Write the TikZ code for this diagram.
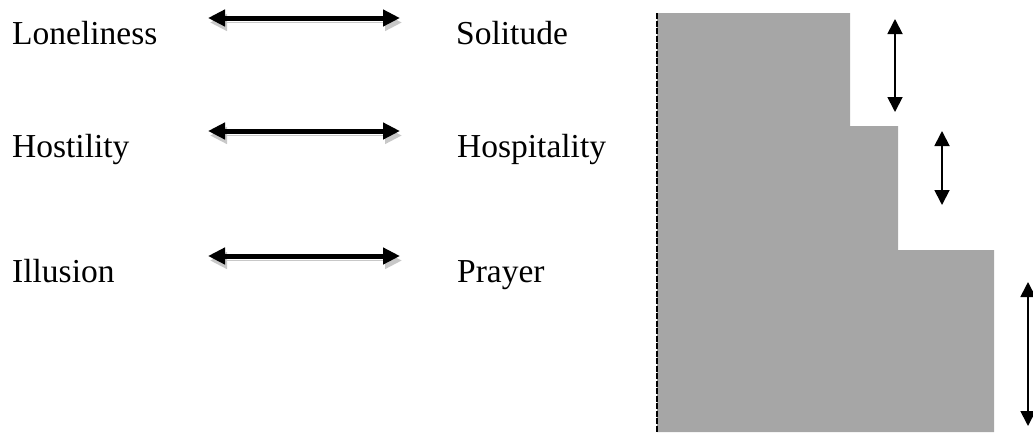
\documentclass[tikz,border=0pt]{standalone}
\usepackage{fontspec}
\setmainfont{Liberation Serif}
\usetikzlibrary{arrows.meta}
\definecolor{stepgray}{HTML}{A6A6A6}
\definecolor{shadowgray}{HTML}{C8C8C8}
\tikzset{
    word/.style={anchor=base west, inner sep=0pt, font=\fontsize{33.5}{40}\selectfont},
    pairarrow/.style={line width=5pt, {Triangle[length=17pt,width=16pt]}-{Triangle[length=17pt,width=16pt]},
        preaction={draw=shadowgray, transform canvas={shift={(2pt,-4.5pt)}}}},
    gaparrow/.style={line width=1.8pt, {Triangle[length=15pt,width=15pt]}-{Triangle[length=15pt,width=15pt]}}
}
\begin{document}
\begin{tikzpicture}[x=1pt,y=-1pt]
    \useasboundingbox (0,0) rectangle (1033,432);
    \node[word] (lone) at (12,44) {Loneliness};
    \node[word] (host) at (12,157) {Hostility};
    \node[word] (illu) at (12,282) {Illusion};
    \node[word] (soli) at (456,44) {Solitude};
    \node[word] (hosp) at (457,157) {Hospitality};
    \node[word] (pray) at (457,282) {Prayer};
    \foreach \y/\n in {18/a,131/b,256/c}{
        \coordinate (l\n) at (208,\y);
        \coordinate (r\n) at (400,\y);
        \draw[pairarrow] (l\n) -- (r\n);
    }
    \fill[stepgray] (657,13) -- (850,13) -- (850,126) -- (898,126) -- (898,250)
        -- (994,250) -- (994,432) -- (657,432) -- cycle;
    \draw[line width=1.6pt, dash pattern=on 6pt off 1.5pt] (657,13) -- (657,432);
    \coordinate (ta) at (895,19);  \coordinate (ba) at (895,112);
    \coordinate (tb) at (942,131); \coordinate (bb) at (942,205);
    \coordinate (tc) at (1028,282); \coordinate (bc) at (1028,426);
    \draw[gaparrow] (ta) -- (ba);
    \draw[gaparrow] (tb) -- (bb);
    \draw[gaparrow] (tc) -- (bc);
\end{tikzpicture}
\end{document}
